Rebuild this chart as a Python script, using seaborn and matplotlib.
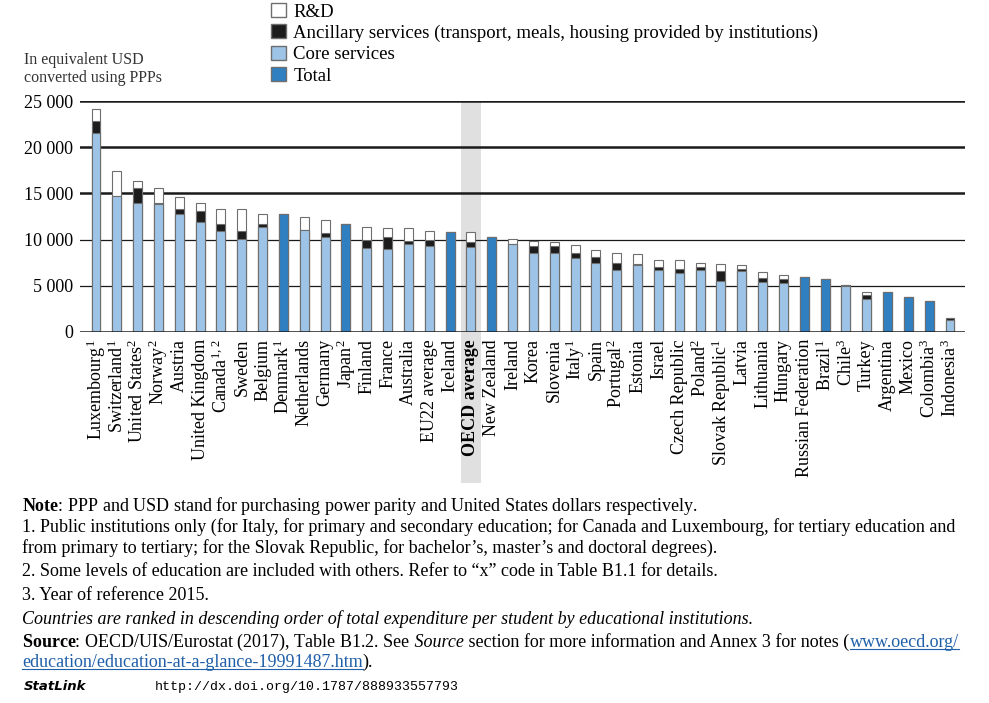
import numpy as np
import pandas as pd
import matplotlib.pyplot as plt
import matplotlib.patches as mpatches
import seaborn as sns

# ---- data (USD PPP per student) ----
countries = ["Luxembourg$^1$", "Switzerland$^1$", "United States$^2$", "Norway$^2$", "Austria",
             "United Kingdom", "Canada$^{1,\\,2}$", "Sweden", "Belgium", "Denmark$^1$",
             "Netherlands", "Germany", "Japan$^2$", "Finland", "France", "Australia",
             "EU22 average", "Iceland", "OECD average", "New Zealand", "Ireland", "Korea",
             "Slovenia", "Italy$^1$", "Spain", "Portugal$^2$", "Estonia", "Israel",
             "Czech Republic", "Poland$^2$", "Slovak Republic$^1$", "Latvia", "Lithuania",
             "Hungary", "Russian Federation", "Brazil$^1$", "Chile$^3$", "Turkey",
             "Argentina", "Mexico", "Colombia$^3$", "Indonesia$^3$"]
core = [21500, 14700, 14000, 13900, 12740, 11940, 10970, 10030, 11360, 12810,
        11040, 10250, 11690, 9060, 9020, 9490, 9270, 10820, 9200, 10280, 9490, 8550,
        8580, 8040, 7470, 6750, 7250, 6750, 6350, 6710, 5520, 6600, 5440,
        5270, 5950, 5740, 4950, 3570, 4330, 3750, 3320, 1350]
ancillary = [1370, 0, 1550, 100, 540, 1160, 680, 940, 370, 0,
             0, 430, 0, 900, 1260, 390, 650, 0, 580, 0, 0, 720,
             690, 480, 610, 750, 80, 250, 430, 290, 1110, 180, 370,
             500, 0, 0, 150, 430, 0, 0, 0, 150]
rnd = [1230, 2750, 800, 1550, 1300, 830, 1630, 2310, 1080, 0,
       1440, 1440, 0, 1440, 940, 1340, 1010, 0, 1010, 0, 610, 610,
       470, 860, 760, 1020, 1080, 790, 1010, 430, 700, 440, 720,
       400, 0, 0, 0, 330, 0, 0, 0, 0]
total_only = ["Denmark$^1$", "Japan$^2$", "Iceland", "New Zealand",
              "Russian Federation", "Brazil$^1$", "Argentina", "Mexico", "Colombia$^3$"]

df = pd.DataFrame({"country": countries, "core": core, "anc": ancillary, "rnd": rnd})
df["lvl2"] = df["core"] + df["anc"]
df["lvl3"] = df["lvl2"] + df["rnd"]

C_CORE = "#9dc3e6"
C_TOTAL = "#2f7fc1"
C_ANC = "#1c1c1c"
C_EDGE = "#6e6e6e"

plt.rcParams["font.family"] = ["Liberation Serif", "DejaVu Serif"]
plt.rcParams["mathtext.fontset"] = "custom"
plt.rcParams["mathtext.rm"] = "Liberation Serif"
plt.rcParams["mathtext.it"] = "Liberation Serif:italic"
plt.rcParams["mathtext.bf"] = "Liberation Serif:bold"

fig = plt.figure(figsize=(9.89, 7.03), dpi=100)
W, H = 989, 703
ax = fig.add_axes([80 / W, 1 - 332 / H, 885 / W, 231 / H])

# ---- stacked bars as overlaid cumulative layers ----
bw = 0.43
sns.barplot(data=df, x="country", y="lvl3", color="white", saturation=1, width=bw,
            edgecolor=C_EDGE, linewidth=0.8, ax=ax, zorder=3)
sns.barplot(data=df, x="country", y="lvl2", color=C_ANC, saturation=1, width=bw,
            edgecolor=C_EDGE, linewidth=0.8, ax=ax, zorder=4)
pal = [C_TOTAL if c in total_only else C_CORE for c in countries]
sns.barplot(data=df, x="country", y="core", hue="country", palette=pal, legend=False,
            saturation=1, width=bw, edgecolor=C_EDGE, linewidth=0.8, ax=ax, zorder=5)

n = len(countries)
ax.set_xlim(-0.768, n - 1 + 0.72)
ax.set_ylim(0, 25000)

# OECD average highlight band running down through the labels
oecd_i = countries.index("OECD average")
ax.axvspan(oecd_i - 0.5, oecd_i + 0.5, ymin=-0.654, ymax=1, color="#e0e0e0",
           zorder=0, clip_on=False, lw=0)

# gridlines
for v in [25000, 20000, 15000]:
    ax.axhline(v, color="#1a1a1a", lw=1.8, zorder=1)
for v in [10000, 5000]:
    ax.axhline(v, color="#1a1a1a", lw=0.9, zorder=1)
ax.axhline(0, color="#1a1a1a", lw=1.8, zorder=6)

for s in ax.spines.values():
    s.set_visible(False)
ax.set_xlabel("")
ax.set_ylabel("")
yt = [0, 5000, 10000, 15000, 20000, 25000]
ax.set_yticks(yt)
ax.set_yticklabels([f"{v:,}".replace(",", " ") for v in yt], fontsize=13)
ax.tick_params(axis="both", length=0)
ax.tick_params(axis="y", pad=5)
ax.tick_params(axis="x", pad=5)
ax.set_xticks(range(n))
ax.set_xticklabels(countries, rotation=90, fontsize=13)
for t in ax.get_xticklabels():
    if "OECD" in t.get_text():
        t.set_fontweight("bold")

# axis unit label
fig.text(24 / W, 1 - 82 / H, "In equivalent USD\nconverted using PPPs", fontsize=11.5,
         va="baseline", ha="left", linespacing=1.2, color="#333333")

# legend
handles = [mpatches.Patch(facecolor="white", edgecolor=C_EDGE, label="R&D"),
           mpatches.Patch(facecolor=C_ANC, edgecolor=C_EDGE,
                          label="Ancillary services (transport, meals, housing provided by institutions)"),
           mpatches.Patch(facecolor=C_CORE, edgecolor=C_EDGE, label="Core services"),
           mpatches.Patch(facecolor=C_TOTAL, edgecolor=C_EDGE, label="Total")]
fig.legend(handles=handles, loc="upper left", bbox_to_anchor=(271 / W, 1 - 3 / H),
           frameon=False, fontsize=13.5, handlelength=0.78, handleheight=0.78,
           handletextpad=0.4, labelspacing=0.2, borderpad=0, borderaxespad=0)

# ---- notes ----
fs = 13
def ftext(x, y, s, **kw):
    return fig.text(x / W, 1 - y / H, s, fontsize=kw.pop("fontsize", fs), va="baseline",
                    ha="left", **kw)

ftext(22, 511, "$\\bf{Note}$: PPP and USD stand for purchasing power parity and United States dollars respectively.")
ftext(22, 532, "1. Public institutions only (for Italy, for primary and secondary education; for Canada and Luxembourg, for tertiary education and")
ftext(22, 553, "from primary to tertiary; for the Slovak Republic, for bachelor\u2019s, master\u2019s and doctoral degrees).")
ftext(22, 576, "2. Some levels of education are included with others. Refer to \u201cx\u201d code in Table B1.1 for details.")
ftext(22, 600, "3. Year of reference 2015.")
ftext(22, 624, "Countries are ranked in descending order of total expenditure per student by educational institutions.",
      style="italic")

fig.canvas.draw()
rend = fig.canvas.get_renderer()

def chain(parts, x, y):
    # write text pieces one after the other on a line
    for s, kw in parts:
        t = ftext(x, y, s, **kw)
        bb = t.get_window_extent(rend)
        if kw.get("color") == "#1f5fa8":
            fig.add_artist(plt.Line2D([bb.x0 / W, bb.x1 / W], [(H - y - 2) / H] * 2,
                                      color="#1f5fa8", lw=0.8))
        x = bb.x1

chain([("$\\bf{Source}$: OECD/UIS/Eurostat (2017), Table B1.2. See", {}),
       (" Source", {"style": "italic"}),
       (" section for more information and Annex 3 for notes (", {}),
       ("www.oecd.org/", {"color": "#1f5fa8"})], 22, 647)
chain([("education/education-at-a-glance-19991487.htm", {"color": "#1f5fa8"}),
       (").", {})], 22, 667)
ftext(24, 690, "StatLink", family="DejaVu Sans", weight="bold", style="italic", fontsize=9.5)
ftext(155, 690, "http://dx.doi.org/10.1787/888933557793", family="Liberation Mono", fontsize=9.5)

plt.savefig("out.png", dpi=100)
